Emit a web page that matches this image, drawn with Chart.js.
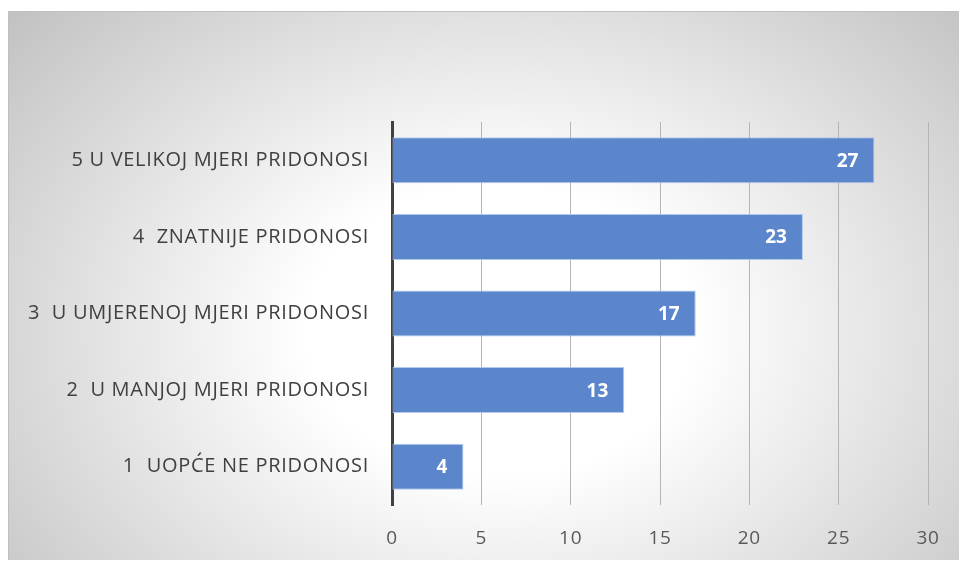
<!DOCTYPE html>
<html>
<head>
<meta charset="utf-8">
<script src="https://cdn.jsdelivr.net/npm/chart.js@4/dist/chart.umd.min.js"></script>
<style>
html,body{margin:0;padding:0;background:#fff;}
#wrap{width:959px;height:561px;position:relative;}
</style>
</head>
<body>
<div id="wrap"><canvas id="c" width="959" height="561"></canvas></div>
<script>
const categories = [
  "5 U VELIKOJ MJERI PRIDONOSI",
  "4  ZNATNIJE PRIDONOSI",
  "3  U UMJERENOJ MJERI PRIDONOSI",
  "2  U MANJOJ MJERI PRIDONOSI",
  "1  UOPĆE NE PRIDONOSI"
];
const values = [27, 23, 17, 13, 4];
const xTicks = [0, 5, 10, 15, 20, 25, 30];

const FONT = "'Open Sans', Lato, sans-serif";

const bgPlugin = {
  id: 'bg',
  beforeDraw(chart) {
    const ctx = chart.ctx;
    const x0 = 8, y0 = 11, x1 = 959, y1 = 560;
    const cx = 500, cy = 330, rx = 560, ry = 420;
    ctx.save();
    ctx.beginPath();
    ctx.rect(x0, y0, x1 - x0, y1 - y0);
    ctx.clip();
    ctx.translate(cx, cy);
    ctx.scale(1, ry / rx);
    const g = ctx.createRadialGradient(0, 0, 0, 0, 0, rx * 1.15);
    g.addColorStop(0, '#ffffff');
    g.addColorStop(0.3, '#ffffff');
    g.addColorStop(1, '#c2c2c2');
    ctx.fillStyle = g;
    ctx.fillRect(-cx, -cy * rx / ry, 2000, 2000);
    ctx.restore();
    ctx.save();
    ctx.strokeStyle = '#bfbfbf';
    ctx.lineWidth = 1;
    ctx.beginPath();
    ctx.moveTo(x0 + 0.5, y1);
    ctx.lineTo(x0 + 0.5, y0 + 0.5);
    ctx.lineTo(x1, y0 + 0.5);
    ctx.stroke();
    ctx.restore();
    ctx.letterSpacing = '0.7px';
  }
};

const labelPlugin = {
  id: 'vlabels',
  afterDatasetsDraw(chart) {
    const ctx = chart.ctx;
    const meta = chart.getDatasetMeta(0);
    ctx.save();
    ctx.letterSpacing = '0px';
    ctx.fillStyle = '#ffffff';
    ctx.font = "bold 19px " + FONT;
    ctx.textAlign = 'right';
    ctx.textBaseline = 'middle';
    meta.data.forEach((bar, i) => {
      ctx.fillText(String(values[i]), bar.x - 16, bar.y + 1);
    });
    ctx.restore();
  }
};

new Chart(document.getElementById('c'), {
  type: 'bar',
  data: {
    labels: categories,
    datasets: [{
      data: values,
      backgroundColor: '#5b86cc',
      borderColor: 'rgba(170,195,235,0.9)',
      borderWidth: 1,
      borderSkipped: false,
      barPercentage: 0.6,
      categoryPercentage: 1.0
    }]
  },
  options: {
    indexAxis: 'y',
    responsive: false,
    animation: false,
    devicePixelRatio: 1,
    layout: { padding: { left: 0, right: 31, top: 122, bottom: 0 } },
    plugins: { legend: { display: false }, tooltip: { enabled: false } },
    scales: {
      x: {
        min: 0, max: 30,
        afterBuildTicks(scale) { scale.ticks = xTicks.map(v => ({ value: v })); },
        afterFit(scale) { scale.height = 56; scale.paddingRight = 0; scale.paddingLeft = 0; },
        grid: { color: '#b4b4b4', lineWidth: 1, drawTicks: false },
        border: { display: false },
        ticks: { color: '#595959', font: { family: FONT, size: 19 }, padding: 22 }
      },
      y: {
        afterFit(scale) { scale.width = 392; },
        grid: { display: false, drawTicks: false },
        border: { display: true, color: '#404040', width: 3 },
        ticks: { color: '#404040', font: { family: FONT, size: 20 }, padding: 23 }
      }
    }
  },
  plugins: [bgPlugin, labelPlugin]
});
</script>
</body>
</html>
